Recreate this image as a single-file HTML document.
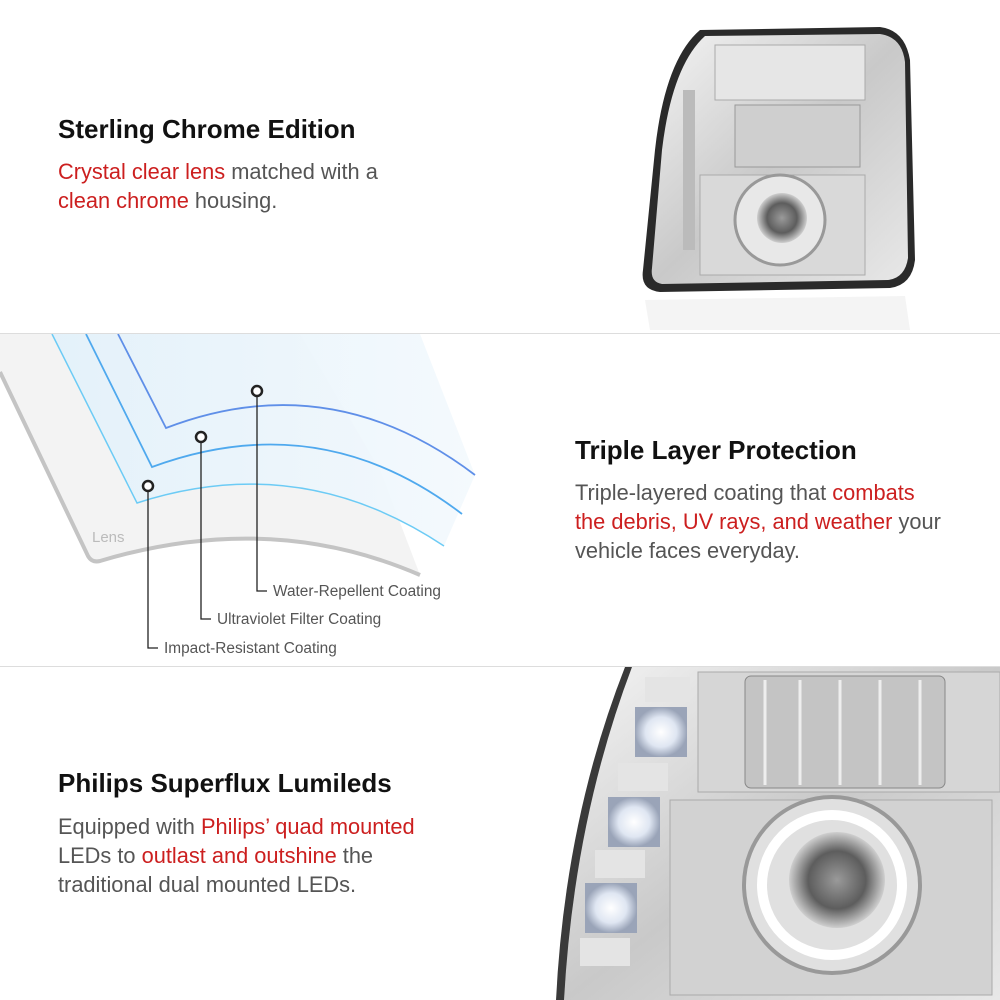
<!DOCTYPE html>
<html><head><meta charset="utf-8"><style>
body{margin:0;width:1000px;height:1000px;background:#fff;position:relative;overflow:hidden;font-family:"Liberation Sans",sans-serif}
.t{position:absolute;font-size:26px;color:#111;font-weight:bold}
.b{position:absolute;font-size:21.8px;color:#555;line-height:29px;white-space:nowrap}
.r{color:#cc1f1f}
.hr{position:absolute;left:0;width:1000px;height:1px;background:#ddd}
svg{position:absolute;left:0;top:0}
</style></head><body>
<svg width="1000" height="1000" viewBox="0 0 1000 1000">
<defs>
<linearGradient id="ch" x1="0" y1="0" x2="1" y2="1"><stop offset="0" stop-color="#f4f4f4"/><stop offset=".5" stop-color="#c9c9c9"/><stop offset="1" stop-color="#e8e8e8"/></linearGradient>
<linearGradient id="bl" x1="0" y1="0" x2="1" y2="0"><stop offset="0" stop-color="#e2f1fb"/><stop offset="1" stop-color="#f3f9fd"/></linearGradient>
<radialGradient id="pj"><stop offset="0" stop-color="#9a9a9a"/><stop offset=".6" stop-color="#5d5d5d"/><stop offset="1" stop-color="#cfcfcf"/></radialGradient>
<radialGradient id="led"><stop offset="0" stop-color="#fff"/><stop offset=".6" stop-color="#dfe6f2"/><stop offset="1" stop-color="#9aa4b8"/></radialGradient>
</defs>
<path d="M0 334 L0 372 L88 556 Q92 563 100 561 Q270 510 420 575 L380 470 L300 334 Z" fill="#f3f3f3"/>
<path d="M0 372 L88 556 Q92 563 100 561 Q270 510 420 575" fill="none" stroke="#c4c4c4" stroke-width="4"/>
<path d="M52 334 L137 503 Q300 450 444 546 L475 475 L420 334 Z" fill="url(#bl)" opacity=".9"/>
<path d="M52 334 L137 503 Q300 450 444 546" fill="none" stroke="#6ccbf5" stroke-width="1.5"/>
<path d="M86 334 L152 467 Q320 405 462 514" fill="none" stroke="#4fa9ee" stroke-width="1.8"/>
<path d="M118 334 L166 428 Q330 365 475 475" fill="none" stroke="#5f8fe8" stroke-width="1.8"/>
<g stroke="#222" fill="none">
<path d="M148 491 V648 H158" stroke-width="1.3"/><path d="M201 442 V619 H211" stroke-width="1.3"/><path d="M257 396 V591 H267" stroke-width="1.3"/>
<circle cx="148" cy="486" r="5" fill="#fff" stroke-width="2.5"/><circle cx="201" cy="437" r="5" fill="#fff" stroke-width="2.5"/><circle cx="257" cy="391" r="5" fill="#fff" stroke-width="2.5"/>
</g>
<text x="92" y="542" font-size="15" fill="#bbb" font-family="Liberation Sans">Lens</text>
<g font-size="15.4" fill="#555" font-family="Liberation Sans">
<text x="273" y="596">Water-Repellent Coating</text>
<text x="217" y="624">Ultraviolet Filter Coating</text>
<text x="164" y="653">Impact-Resistant Coating</text>
</g>
<path d="M700 30 L880 27 Q905 30 910 60 L915 260 Q912 285 890 288 L660 292 Q640 290 643 270 L655 150 Q665 60 700 30 Z" fill="#2a2a2a"/>
<path d="M705 36 L880 34 Q902 37 905 62 L908 258 Q905 278 888 280 L662 284 Q650 282 652 268 L662 150 Q672 66 705 36 Z" fill="url(#ch)"/>
<rect x="715" y="45" width="150" height="55" fill="#e6e6e6" stroke="#aaa"/>
<rect x="735" y="105" width="125" height="62" fill="#cfcfcf" stroke="#999"/>
<rect x="700" y="175" width="165" height="100" fill="#d9d9d9" stroke="#aaa"/>
<circle cx="780" cy="220" r="45" fill="#e8e8e8" stroke="#999" stroke-width="3"/>
<circle cx="782" cy="218" r="25" fill="url(#pj)"/>
<rect x="683" y="90" width="12" height="160" fill="#bbb"/>
<path d="M645 300 L905 296 L910 330 L650 330Z" fill="#f4f4f4"/>
<path d="M625 667 L1000 667 L1000 1000 L556 1000 Q565 820 625 667Z" fill="#3a3a3a"/>
<path d="M632 667 L1000 667 L1000 1000 L564 1000 Q574 820 632 667Z" fill="url(#ch)"/>
<rect x="698" y="672" width="302" height="120" fill="#d6d6d6" stroke="#aaa"/>
<rect x="745" y="676" width="200" height="112" rx="6" fill="#c4c4c4" stroke="#888"/>
<g stroke="#eee" stroke-width="3"><line x1="765" y1="680" x2="765" y2="785"/><line x1="800" y1="680" x2="800" y2="785"/><line x1="840" y1="680" x2="840" y2="785"/><line x1="880" y1="680" x2="880" y2="785"/><line x1="920" y1="680" x2="920" y2="785"/></g>
<rect x="670" y="800" width="322" height="195" fill="#d2d2d2" stroke="#aaa"/>
<circle cx="832" cy="885" r="88" fill="#e0e0e0" stroke="#999" stroke-width="4"/>
<circle cx="832" cy="885" r="70" fill="none" stroke="#fff" stroke-width="10"/>
<circle cx="837" cy="880" r="48" fill="url(#pj)"/>
<g fill="url(#led)">
<rect x="635" y="707" width="52" height="50"/><rect x="608" y="797" width="52" height="50"/><rect x="585" y="883" width="52" height="50"/>
</g>
<g fill="#e4e4e4"><rect x="645" y="677" width="45" height="25"/><rect x="618" y="763" width="50" height="28"/><rect x="595" y="850" width="50" height="28"/><rect x="580" y="938" width="50" height="28"/></g>
</svg>
<div class="hr" style="top:333px"></div>
<div class="hr" style="top:666px"></div>
<div class="t" style="left:58px;top:114px">Sterling Chrome Edition</div>
<div class="b" style="left:58px;top:157px"><span class="r">Crystal clear lens</span> matched with a<br><span class="r">clean chrome</span> housing.</div>
<div class="t" style="left:575px;top:435px">Triple Layer Protection</div>
<div class="b" style="left:575px;top:478px">Triple-layered coating that <span class="r">combats<br>the debris, UV rays, and weather</span> your<br>vehicle faces everyday.</div>
<div class="t" style="left:58px;top:768px">Philips Superflux Lumileds</div>
<div class="b" style="left:58px;top:812px">Equipped with <span class="r">Philips’ quad mounted</span><br>LEDs to <span class="r">outlast and outshine</span> the<br>traditional dual mounted LEDs.</div>
</body></html>
